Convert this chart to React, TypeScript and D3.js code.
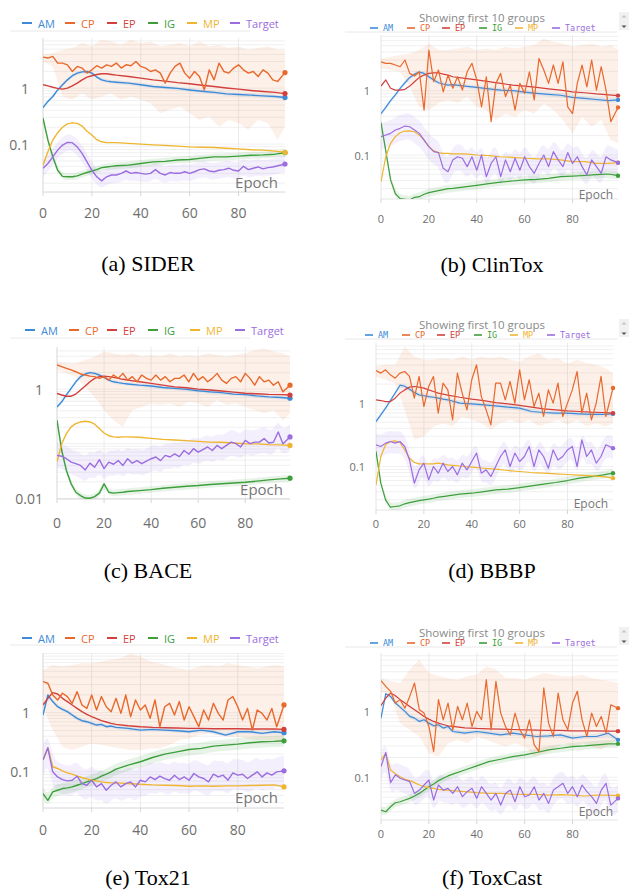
import React from 'react';
import * as d3 from 'd3';

const SMOOTH_EPOCHS = [0, 2, 4, 6, 8, 10, 12, 14, 16, 18, 20, 22, 24, 26, 28, 30, 35, 40, 45, 50, 55, 60, 65, 70, 75, 80, 85, 90, 95, 99];
const NOISY_EPOCHS = [...d3.range(0, 98, 2), 99];
const BAND_EPOCHS = [...d3.range(0, 98, 4), 99];

const SERIES = ['AM', 'CP', 'EP', 'IG', 'MP', 'Target'];
const X_TICKS = [0, 20, 40, 60, 80];

// ---- (a) SIDER
const SIDER_AM = [0.45, 0.58, 0.71, 0.93, 1.15, 1.41, 1.67, 1.86, 1.96, 1.99, 1.86, 1.58, 1.41, 1.34, 1.3, 1.28, 1.23, 1.15, 1.07, 1.03, 0.99, 0.93, 0.88, 0.84, 0.79, 0.77, 0.75, 0.73, 0.71, 0.68];
const SIDER_EP = [1.15, 1.1, 1.04, 0.99, 0.96, 1.0, 1.1, 1.23, 1.41, 1.58, 1.67, 1.76, 1.81, 1.81, 1.76, 1.71, 1.62, 1.51, 1.41, 1.34, 1.26, 1.2, 1.13, 1.07, 1.01, 0.96, 0.91, 0.87, 0.84, 0.8];
const SIDER_IG = [0.29, 0.118, 0.059, 0.034, 0.0265, 0.026, 0.026, 0.027, 0.029, 0.031, 0.033, 0.035, 0.038, 0.039, 0.04, 0.041, 0.042, 0.045, 0.048, 0.049, 0.052, 0.053, 0.056, 0.059, 0.059, 0.061, 0.063, 0.064, 0.066, 0.07];
const SIDER_MP = [0.042, 0.073, 0.118, 0.16, 0.2, 0.23, 0.24, 0.235, 0.21, 0.17, 0.145, 0.12, 0.11, 0.106, 0.106, 0.106, 0.103, 0.1, 0.097, 0.095, 0.092, 0.089, 0.088, 0.087, 0.084, 0.082, 0.079, 0.078, 0.075, 0.071];
const SIDER_CP = [3.6, 3.46, 3.7, 2.81, 2.81, 2.62, 1.99, 2.45, 2.29, 1.86, 2.13, 2.52, 2.29, 2.62, 2.45, 2.81, 2.29, 2.62, 2.52, 3.0, 2.45, 2.29, 1.99, 2.13, 1.86, 1.23, 1.86, 2.45, 2.81, 1.86, 1.51, 1.99, 1.62, 0.93, 2.13, 1.41, 2.81, 1.99, 1.86, 2.29, 2.62, 2.13, 1.86, 1.99, 1.62, 2.13, 1.86, 1.41, 1.32, 1.9];
const SIDER_TARGET = [0.037, 0.045, 0.059, 0.078, 0.096, 0.107, 0.106, 0.089, 0.068, 0.048, 0.034, 0.026, 0.022, 0.026, 0.028, 0.028, 0.03, 0.033, 0.03, 0.031, 0.03, 0.029, 0.03, 0.035, 0.03, 0.028, 0.031, 0.03, 0.03, 0.032, 0.03, 0.032, 0.035, 0.036, 0.033, 0.032, 0.034, 0.035, 0.037, 0.034, 0.033, 0.04, 0.035, 0.037, 0.039, 0.036, 0.038, 0.039, 0.041, 0.044];
const SIDER_CP_HI = [3.97, 4.25, 4.88, 5.23, 6.43, 5.6, 7.4, 6.9, 6.0, 7.4, 6.43, 6.9, 5.6, 6.0, 6.43, 5.6, 6.9, 5.6, 6.0, 5.23, 5.6, 4.88, 5.23, 5.6, 4.88, 4.88];
const SIDER_CP_LO = [3.0, 2.45, 0.71, 0.62, 0.81, 0.62, 0.71, 0.81, 0.62, 0.71, 0.62, 0.54, 0.355, 0.41, 0.47, 0.355, 0.27, 0.31, 0.205, 0.27, 0.235, 0.18, 0.27, 0.235, 0.118, 0.205];

// ---- (b) ClinTox
const CLINTOX_AM = [0.44, 0.55, 0.7, 0.86, 1.09, 1.33, 1.61, 1.81, 1.95, 1.86, 1.65, 1.47, 1.33, 1.27, 1.22, 1.24, 1.18, 1.13, 1.07, 1.02, 1.0, 0.95, 0.91, 0.88, 0.85, 0.79, 0.76, 0.73, 0.7, 0.72];
const CLINTOX_EP = [1.18, 1.47, 1.09, 1.02, 1.02, 1.05, 1.18, 1.38, 1.61, 1.75, 1.86, 1.9, 1.9, 1.81, 1.75, 1.65, 1.55, 1.47, 1.38, 1.3, 1.22, 1.18, 1.13, 1.07, 1.02, 0.96, 0.93, 0.89, 0.86, 0.84];
const CLINTOX_IG = [0.318, 0.116, 0.041, 0.025, 0.021, 0.0205, 0.02, 0.022, 0.0225, 0.0245, 0.026, 0.027, 0.028, 0.029, 0.03, 0.0303, 0.032, 0.0338, 0.036, 0.038, 0.0394, 0.041, 0.0418, 0.0434, 0.046, 0.047, 0.048, 0.0494, 0.0507, 0.0477];
const CLINTOX_MP = [0.0385, 0.094, 0.152, 0.193, 0.222, 0.236, 0.238, 0.23, 0.205, 0.171, 0.135, 0.117, 0.109, 0.106, 0.106, 0.104, 0.104, 0.1, 0.098, 0.094, 0.092, 0.089, 0.087, 0.087, 0.084, 0.079, 0.079, 0.074, 0.074, 0.076];
const CLINTOX_CP = [2.82, 2.66, 2.66, 2.51, 2.36, 3.0, 1.86, 1.69, 1.97, 0.5, 4.29, 1.38, 2.1, 0.96, 1.75, 1.09, 1.65, 1.02, 1.97, 2.66, 1.47, 0.56, 1.65, 0.33, 1.3, 1.86, 0.81, 1.22, 0.5, 1.3, 0.91, 1.97, 0.72, 3.18, 2.1, 1.3, 2.51, 1.3, 2.82, 0.56, 0.44, 1.3, 2.51, 1.15, 3.0, 1.02, 2.36, 1.02, 0.33, 0.55];
const CLINTOX_TARGET = [0.193, 0.205, 0.217, 0.245, 0.26, 0.282, 0.275, 0.245, 0.217, 0.171, 0.135, 0.113, 0.109, 0.062, 0.055, 0.084, 0.094, 0.089, 0.066, 0.094, 0.058, 0.1, 0.046, 0.074, 0.094, 0.046, 0.084, 0.055, 0.089, 0.058, 0.094, 0.066, 0.052, 0.074, 0.1, 0.066, 0.113, 0.084, 0.066, 0.109, 0.074, 0.094, 0.066, 0.049, 0.084, 0.066, 0.052, 0.094, 0.084, 0.076];
const CLINTOX_CP_HI = [3.18, 3.38, 3.58, 3.8, 4.29, 5.44, 4.29, 4.29, 4.55, 4.83, 4.29, 4.55, 4.29, 4.83, 4.55, 4.83, 5.13, 6.5, 5.78, 5.44, 4.83, 5.13, 5.44, 4.83, 5.13, 4.29];
const CLINTOX_CP_LO = [2.22, 2.1, 1.97, 1.15, 0.56, 0.5, 0.64, 0.72, 0.64, 0.81, 0.56, 0.5, 0.35, 0.44, 0.39, 0.5, 0.44, 0.64, 0.5, 0.35, 0.217, 0.39, 0.275, 0.35, 0.171, 0.152];

// ---- (c) BACE
const BACE_AM = [0.47, 0.585, 0.78, 1.03, 1.36, 1.69, 1.89, 2.0, 1.94, 1.81, 1.64, 1.46, 1.36, 1.31, 1.27, 1.24, 1.18, 1.14, 1.07, 1.03, 0.99, 0.93, 0.89, 0.86, 0.81, 0.79, 0.75, 0.72, 0.7, 0.68];
const BACE_EP = [0.83, 0.78, 0.74, 0.74, 0.81, 0.96, 1.14, 1.36, 1.57, 1.69, 1.73, 1.69, 1.64, 1.57, 1.51, 1.46, 1.36, 1.27, 1.18, 1.1, 1.06, 1.0, 0.96, 0.92, 0.88, 0.84, 0.82, 0.8, 0.79, 0.78];
const BACE_IG = [0.27, 0.075, 0.032, 0.0184, 0.0129, 0.0112, 0.0101, 0.01, 0.0107, 0.0124, 0.0184, 0.0129, 0.0124, 0.0127, 0.0129, 0.0133, 0.0138, 0.0144, 0.0153, 0.0159, 0.0166, 0.0171, 0.0179, 0.0184, 0.0191, 0.0197, 0.0206, 0.0217, 0.0227, 0.0233];
const BACE_MP = [0.046, 0.1, 0.153, 0.203, 0.233, 0.25, 0.258, 0.25, 0.227, 0.189, 0.157, 0.14, 0.133, 0.131, 0.133, 0.133, 0.131, 0.125, 0.12, 0.117, 0.114, 0.11, 0.107, 0.106, 0.103, 0.1, 0.099, 0.096, 0.095, 0.093];
const BACE_CP = [2.77, 2.58, 2.4, 2.24, 2.08, 1.89, 1.81, 1.73, 1.69, 1.57, 1.69, 1.46, 1.81, 1.57, 1.94, 1.46, 1.69, 1.36, 1.81, 1.57, 1.46, 1.81, 1.46, 1.69, 1.36, 1.57, 1.57, 1.81, 1.36, 1.94, 1.46, 1.69, 1.36, 1.57, 1.94, 1.46, 1.27, 1.57, 1.69, 1.36, 1.94, 1.57, 1.18, 1.69, 1.36, 1.46, 1.18, 1.36, 0.89, 1.18];
const BACE_TARGET = [0.061, 0.059, 0.053, 0.046, 0.043, 0.04, 0.033, 0.044, 0.037, 0.051, 0.035, 0.046, 0.042, 0.049, 0.04, 0.053, 0.044, 0.049, 0.043, 0.048, 0.053, 0.057, 0.049, 0.061, 0.057, 0.065, 0.058, 0.075, 0.064, 0.081, 0.07, 0.078, 0.087, 0.075, 0.093, 0.081, 0.093, 0.107, 0.1, 0.087, 0.115, 0.1, 0.107, 0.107, 0.124, 0.103, 0.107, 0.164, 0.1, 0.133];
const BACE_CP_HI = [3.18, 2.97, 2.97, 3.42, 3.94, 4.86, 4.53, 4.22, 4.53, 3.94, 4.22, 3.94, 4.53, 3.94, 4.22, 3.94, 4.53, 4.22, 3.94, 4.22, 4.53, 5.22, 5.6, 4.86, 4.53, 3.94];
const BACE_CP_LO = [2.24, 1.94, 1.69, 1.1, 0.72, 0.41, 0.27, 0.203, 0.41, 0.47, 0.545, 0.51, 0.545, 0.47, 0.585, 0.545, 0.47, 0.63, 0.51, 0.545, 0.47, 0.41, 0.356, 0.41, 0.27, 0.356];

// ---- (d) BBBP
const BBBP_AM = [0.513, 0.654, 0.834, 1.1, 1.44, 1.92, 1.85, 1.66, 1.47, 1.35, 1.31, 1.27, 1.24, 1.2, 1.16, 1.13, 1.0, 0.976, 0.94, 0.907, 0.865, 0.834, 0.738, 0.712, 0.695, 0.695, 0.679, 0.663, 0.663, 0.679];
const BBBP_EP = [1.13, 1.1, 1.06, 1.06, 1.2, 1.44, 1.62, 1.79, 1.83, 1.79, 1.73, 1.62, 1.53, 1.44, 1.39, 1.34, 1.24, 1.16, 1.1, 1.02, 0.976, 0.92, 0.865, 0.814, 0.785, 0.757, 0.738, 0.721, 0.712, 0.695];
const BBBP_IG = [0.173, 0.0546, 0.0298, 0.0228, 0.0234, 0.024, 0.0258, 0.027, 0.028, 0.029, 0.0298, 0.0305, 0.0316, 0.0328, 0.0336, 0.0344, 0.0366, 0.0379, 0.0403, 0.0428, 0.0439, 0.0466, 0.0495, 0.0526, 0.0559, 0.0601, 0.0655, 0.0695, 0.0739, 0.0785];
const BBBP_MP = [0.0514, 0.144, 0.22, 0.248, 0.254, 0.239, 0.183, 0.135, 0.116, 0.11, 0.11, 0.11, 0.11, 0.113, 0.11, 0.106, 0.102, 0.0976, 0.094, 0.0908, 0.0865, 0.0834, 0.0804, 0.0785, 0.0766, 0.0748, 0.073, 0.0713, 0.0695, 0.0655];
const BBBP_CP = [3.28, 2.98, 3.36, 2.8, 2.48, 2.98, 3.16, 2.64, 1.2, 2.64, 0.886, 1.83, 2.64, 0.695, 2.07, 1.62, 0.546, 2.98, 1.44, 0.785, 2.34, 4.03, 1.27, 0.785, 0.455, 2.07, 2.07, 1.13, 2.2, 1.0, 3.36, 1.13, 2.34, 0.886, 1.44, 0.616, 1.62, 1.0, 2.07, 0.616, 1.0, 1.62, 3.16, 0.695, 1.44, 0.546, 1.0, 2.64, 0.616, 1.73];
const BBBP_TARGET = [0.22, 0.207, 0.234, 0.248, 0.234, 0.248, 0.207, 0.127, 0.0546, 0.0886, 0.113, 0.0616, 0.1, 0.0785, 0.113, 0.0834, 0.1, 0.0739, 0.113, 0.0886, 0.12, 0.163, 0.0785, 0.0886, 0.0695, 0.1, 0.144, 0.183, 0.1, 0.163, 0.12, 0.144, 0.207, 0.1, 0.183, 0.144, 0.094, 0.183, 0.127, 0.144, 0.183, 0.207, 0.1, 0.264, 0.144, 0.183, 0.113, 0.144, 0.22, 0.195];
const BBBP_CP_HI = [3.79, 4.03, 4.03, 7.85, 5.45, 4.83, 4.83, 5.13, 4.83, 5.45, 4.83, 5.45, 5.13, 5.45, 4.83, 4.55, 5.45, 6.16, 4.83, 5.13, 4.28, 4.83, 4.28, 4.03, 3.57, 2.98];
const BBBP_CP_LO = [2.64, 2.34, 2.07, 0.785, 0.264, 0.298, 0.428, 0.483, 0.428, 0.616, 0.546, 0.483, 0.379, 0.483, 0.546, 0.483, 0.546, 0.428, 0.483, 0.546, 0.455, 0.546, 0.428, 0.483, 0.428, 0.483];

// ---- (e) Tox21
const TOX21_AM = [0.913, 1.99, 1.54, 1.26, 1.14, 1.04, 0.913, 0.802, 0.732, 0.704, 0.66, 0.618, 0.634, 0.579, 0.594, 0.564, 0.543, 0.508, 0.522, 0.508, 0.495, 0.476, 0.508, 0.476, 0.418, 0.476, 0.476, 0.447, 0.476, 0.458];
const TOX21_EP = [1.35, 1.75, 2.18, 2.07, 1.75, 1.54, 1.35, 1.18, 1.04, 0.937, 0.856, 0.791, 0.732, 0.695, 0.66, 0.634, 0.602, 0.579, 0.564, 0.557, 0.55, 0.543, 0.543, 0.536, 0.536, 0.536, 0.529, 0.529, 0.529, 0.522];
const TOX21_IG = [0.043, 0.033, 0.0458, 0.0489, 0.0522, 0.0536, 0.0557, 0.0594, 0.0634, 0.0677, 0.0722, 0.0771, 0.0845, 0.0913, 0.1, 0.111, 0.13, 0.148, 0.175, 0.199, 0.218, 0.239, 0.249, 0.272, 0.283, 0.294, 0.31, 0.322, 0.327, 0.335];
const TOX21_MP = [0.158, 0.255, 0.122, 0.114, 0.104, 0.0962, 0.0913, 0.0845, 0.0802, 0.076, 0.0722, 0.0703, 0.0677, 0.0659, 0.0651, 0.0651, 0.0634, 0.0618, 0.0602, 0.0594, 0.0587, 0.0572, 0.058, 0.0572, 0.058, 0.058, 0.0587, 0.0594, 0.0602, 0.0557];
const TOX21_CP = [3.35, 3.14, 1.99, 1.64, 2.13, 1.87, 1.44, 2.27, 1.35, 1.18, 1.99, 1.11, 1.87, 1.26, 1.04, 1.75, 0.974, 1.99, 0.856, 1.64, 1.11, 1.35, 0.802, 1.64, 0.579, 1.26, 1.44, 0.913, 1.54, 0.751, 1.26, 0.856, 0.579, 1.11, 0.751, 1.44, 0.974, 0.751, 1.64, 1.87, 1.26, 0.751, 1.18, 0.508, 1.11, 0.974, 0.751, 1.18, 0.579, 1.35];
const TOX21_TARGET = [0.158, 0.255, 0.1, 0.0822, 0.0741, 0.0703, 0.0722, 0.0845, 0.0634, 0.0594, 0.0722, 0.0557, 0.0634, 0.0489, 0.0594, 0.0677, 0.0557, 0.0634, 0.0677, 0.0557, 0.0722, 0.0677, 0.0822, 0.0741, 0.0845, 0.0771, 0.0722, 0.0879, 0.0741, 0.0822, 0.0722, 0.0937, 0.0822, 0.0771, 0.0677, 0.0913, 0.0822, 0.0879, 0.0722, 0.0962, 0.0879, 0.0913, 0.0771, 0.0879, 0.1, 0.0822, 0.0962, 0.0879, 0.1, 0.104];
const TOX21_CP_HI = [5.28, 6.42, 6.02, 6.42, 6.86, 6.86, 7.32, 7.81, 8.34, 10.1, 8.9, 7.32, 6.86, 6.02, 5.64, 5.28, 6.02, 6.42, 6.02, 6.86, 6.42, 6.02, 5.64, 6.02, 6.42, 6.02];
const TOX21_CP_LO = [1.26, 0.508, 0.265, 0.233, 0.265, 0.302, 0.283, 0.265, 0.249, 0.233, 0.233, 0.249, 0.249, 0.283, 0.344, 0.367, 0.418, 0.447, 0.418, 0.392, 0.392, 0.367, 0.344, 0.344, 0.322, 0.302];

// ---- (f) ToxCast
const TOXCAST_AM = [0.791, 1.86, 1.69, 1.34, 1.16, 1.0, 0.839, 0.791, 0.705, 0.746, 0.664, 0.605, 0.627, 0.558, 0.591, 0.496, 0.468, 0.496, 0.468, 0.441, 0.468, 0.441, 0.416, 0.426, 0.441, 0.393, 0.416, 0.416, 0.468, 0.37];
const TOXCAST_EP = [1.22, 1.6, 1.9, 1.73, 1.51, 1.34, 1.19, 1.06, 0.943, 0.839, 0.764, 0.705, 0.664, 0.634, 0.605, 0.591, 0.564, 0.551, 0.545, 0.539, 0.532, 0.526, 0.52, 0.514, 0.514, 0.508, 0.508, 0.508, 0.502, 0.502];
const TOXCAST_IG = [0.0318, 0.03, 0.0357, 0.0411, 0.0426, 0.0452, 0.0479, 0.052, 0.057, 0.064, 0.072, 0.079, 0.089, 0.0966, 0.105, 0.112, 0.129, 0.149, 0.173, 0.188, 0.206, 0.219, 0.238, 0.261, 0.276, 0.293, 0.3, 0.311, 0.322, 0.322];
const TOXCAST_MP = [0.184, 0.232, 0.129, 0.113, 0.102, 0.0933, 0.089, 0.083, 0.0764, 0.072, 0.0696, 0.068, 0.0656, 0.064, 0.064, 0.0626, 0.0605, 0.0584, 0.057, 0.057, 0.0557, 0.0551, 0.0551, 0.0538, 0.0545, 0.0538, 0.052, 0.0538, 0.0538, 0.0527];
const TOXCAST_CP = [2.93, 2.4, 2.02, 1.34, 1.51, 1.12, 1.69, 2.7, 1.06, 0.943, 0.591, 0.246, 1.51, 0.746, 1.34, 0.526, 1.19, 0.746, 1.34, 0.591, 1.0, 0.746, 3.03, 0.526, 2.86, 0.943, 0.591, 0.441, 0.943, 0.526, 0.393, 0.746, 0.311, 0.246, 2.27, 0.664, 0.416, 1.9, 0.746, 0.526, 1.34, 2.02, 0.746, 0.416, 0.943, 0.591, 0.839, 0.468, 1.26, 1.12];
const TOXCAST_TARGET = [0.145, 0.238, 0.083, 0.109, 0.0966, 0.091, 0.0859, 0.057, 0.064, 0.0764, 0.091, 0.0452, 0.0764, 0.064, 0.068, 0.057, 0.072, 0.0508, 0.0605, 0.068, 0.0479, 0.072, 0.057, 0.0452, 0.057, 0.0379, 0.057, 0.064, 0.0426, 0.072, 0.0508, 0.0538, 0.072, 0.0452, 0.057, 0.0402, 0.064, 0.072, 0.081, 0.057, 0.072, 0.0508, 0.0764, 0.0605, 0.0508, 0.0402, 0.064, 0.081, 0.0379, 0.0479];
const TOXCAST_CP_HI = [3.21, 2.86, 2.7, 4.31, 6.12, 3.83, 3.41, 3.21, 3.03, 3.41, 3.61, 4.85, 4.31, 3.21, 3.21, 3.03, 3.41, 3.83, 3.61, 3.41, 3.41, 3.61, 3.21, 3.03, 2.86, 2.7];
const TOXCAST_CP_LO = [2.02, 1.69, 0.664, 0.526, 0.416, 0.232, 0.206, 0.33, 0.37, 0.33, 0.416, 0.37, 0.33, 0.293, 0.33, 0.293, 0.206, 0.232, 0.261, 0.33, 0.293, 0.33, 0.293, 0.261, 0.33, 0.37];

const COLORS: Record<string, string> = {
  AM: '#3d8bd8',
  CP: '#e9682c',
  EP: '#d23f3c',
  IG: '#3c9f3c',
  MP: '#f0b52e',
  Target: '#9b6de0',
};

const SANS = "'Open Sans', 'Noto Sans', sans-serif";
const MONO = "'DejaVu Sans Mono', monospace";
const SERIF = "'Liberation Serif', 'Times New Roman', serif";

type Runs = Record<string, number[]>;

type Layout = {
  id: string;
  caption: string;
  capX: number;
  capY: number;
  left: number;
  right: number;
  top: number;
  bottom: number;
  yDomain: [number, number];
  yTicks: number[];
  grouped: boolean;
  legX: number;
  legY: number;
  legOffsets: number[];
  sepY: number;
  titleY: number;
  xLabelY: number;
  yLabelX: number;
  epochX: number;
  epochY: number;
  targetBand: number;
  igBand: number;
  runs: Runs;
};

const LEFT_LEG = [0, 43, 85, 126, 165, 208];
const RIGHT_LEG = [0, 37, 72, 109, 145, 182];

const PANELS: Layout[] = [
  {
    id: 'a', caption: '(a) SIDER', capX: 148, capY: 271,
    left: 43, right: 285, top: 38, bottom: 192, yDomain: [0.0139, 7.9], yTicks: [1, 0.1],
    grouped: false, legX: 22, legY: 23, legOffsets: LEFT_LEG, sepY: 31, titleY: 0,
    xLabelY: 212, yLabelX: 29, epochX: 278, epochY: 182, targetBand: 1.4, igBand: 1.15,
    runs: { AM: SIDER_AM, CP: SIDER_CP, EP: SIDER_EP, IG: SIDER_IG, MP: SIDER_MP, Target: SIDER_TARGET, hi: SIDER_CP_HI, lo: SIDER_CP_LO },
  },
  {
    id: 'b', caption: '(b) ClinTox', capX: 492, capY: 272,
    left: 381, right: 618, top: 35, bottom: 199, yDomain: [0.0207, 7.35], yTicks: [1, 0.1],
    grouped: true, legX: 370, legY: 28, legOffsets: RIGHT_LEG, sepY: 32, titleY: 17,
    xLabelY: 218, yLabelX: 370, epochX: 613, epochY: 194, targetBand: 1.6, igBand: 1.15,
    runs: { AM: CLINTOX_AM, CP: CLINTOX_CP, EP: CLINTOX_EP, IG: CLINTOX_IG, MP: CLINTOX_MP, Target: CLINTOX_TARGET, hi: CLINTOX_CP_HI, lo: CLINTOX_CP_LO },
  },
  {
    id: 'c', caption: '(c) BACE', capX: 148, capY: 578,
    left: 57, right: 290, top: 347, bottom: 499, yDomain: [0.0097, 5.9], yTicks: [1, 0.01],
    grouped: false, legX: 25, legY: 330, legOffsets: [0, 44, 82, 123, 165, 210], sepY: 338, titleY: 0,
    xLabelY: 522, yLabelX: 43, epochX: 283, epochY: 489, targetBand: 1.7, igBand: 1.15,
    runs: { AM: BACE_AM, CP: BACE_CP, EP: BACE_EP, IG: BACE_IG, MP: BACE_MP, Target: BACE_TARGET, hi: BACE_CP_HI, lo: BACE_CP_LO },
  },
  {
    id: 'd', caption: '(d) BBBP', capX: 492, capY: 578,
    left: 376, right: 613, top: 343, bottom: 510, yDomain: [0.0206, 8.9], yTicks: [1, 0.1],
    grouped: true, legX: 365, legY: 335, legOffsets: RIGHT_LEG, sepY: 339, titleY: 324,
    xLabelY: 523, yLabelX: 365, epochX: 608, epochY: 503, targetBand: 1.5, igBand: 1.15,
    runs: { AM: BBBP_AM, CP: BBBP_CP, EP: BBBP_EP, IG: BBBP_IG, MP: BBBP_MP, Target: BBBP_TARGET, hi: BBBP_CP_HI, lo: BBBP_CP_LO },
  },
  {
    id: 'e', caption: '(e) Tox21', capX: 148, capY: 885,
    left: 43, right: 284, top: 653, bottom: 808, yDomain: [0.0245, 10.2], yTicks: [1, 0.1],
    grouped: false, legX: 22, legY: 638, legOffsets: LEFT_LEG, sepY: 645, titleY: 0,
    xLabelY: 829, yLabelX: 30, epochX: 278, epochY: 797, targetBand: 1.8, igBand: 1.25,
    runs: { AM: TOX21_AM, CP: TOX21_CP, EP: TOX21_EP, IG: TOX21_IG, MP: TOX21_MP, Target: TOX21_TARGET, hi: TOX21_CP_HI, lo: TOX21_CP_LO },
  },
  {
    id: 'f', caption: '(f) ToxCast', capX: 492, capY: 885,
    left: 381, right: 618, top: 653, bottom: 820, yDomain: [0.0225, 7.7], yTicks: [1, 0.1],
    grouped: true, legX: 370, legY: 643, legOffsets: RIGHT_LEG, sepY: 647, titleY: 632,
    xLabelY: 833, yLabelX: 370, epochX: 613, epochY: 811, targetBand: 1.6, igBand: 1.15,
    runs: { AM: TOXCAST_AM, CP: TOXCAST_CP, EP: TOXCAST_EP, IG: TOXCAST_IG, MP: TOXCAST_MP, Target: TOXCAST_TARGET, hi: TOXCAST_CP_HI, lo: TOXCAST_CP_LO },
  },
];

const epochsOf = (name: string) => (name === 'CP' || name === 'Target' ? NOISY_EPOCHS : SMOOTH_EPOCHS);

function Chart({ p }: { p: Layout }) {
  const x = d3.scaleLinear().domain([0, 99]).range([p.left, p.right]);
  const y = d3.scaleLog().domain(p.yDomain).range([p.bottom, p.top]);
  const small = p.grouped;
  const tickSize = small ? 11 : 14;
  const lw = small ? 1.2 : 1.4;

  const lineOf = (name: string) => {
    const ep = epochsOf(name);
    return d3.line<number>().x((_, i) => x(ep[i])).y((v) => y(v))(p.runs[name]) || '';
  };
  const haloOf = (name: string, k: number) => {
    const ep = epochsOf(name);
    return d3.area<number>()
      .x((_, i) => x(ep[i]))
      .y0((v) => y(v / k))
      .y1((v) => y(v * k))
      .curve(d3.curveBasis)(p.runs[name]) || '';
  };
  const cpBand = d3.area<number>()
    .x((_, i) => x(BAND_EPOCHS[i]))
    .y0((_, i) => y(p.runs.lo[i]))
    .y1((v) => y(v))(p.runs.hi) || '';

  const grid = y.ticks().filter((v) => v >= p.yDomain[0] && v <= p.yDomain[1]);
  const clip = `clip-${p.id}`;
  const order = ['AM', 'EP', 'IG', 'MP', 'Target', 'CP'];

  return (
    <g>
      <defs>
        <clipPath id={clip}>
          <rect x={p.left} y={p.top} width={p.right - p.left + 4} height={p.bottom - p.top} />
        </clipPath>
      </defs>

      {/* title / legend */}
      {p.grouped && (
        <g>
          <text x={482} y={p.titleY} textAnchor="middle" dominantBaseline="central"
            fontFamily={SANS} fontSize={11.5} fill="#8a8a8a">Showing first 10 groups</text>
          <rect x={619} y={p.titleY - 5} width={10} height={18} fill="#f1f1f1" />
          <path d={`M621.5,${p.titleY + 0.5} L624,${p.titleY - 2} L626.5,${p.titleY + 0.5} Z`} fill="#c4c4c4" />
          <path d={`M621.5,${p.titleY + 8.5} L624,${p.titleY + 11} L626.5,${p.titleY + 8.5} Z`} fill="#555" />
        </g>
      )}
      {SERIES.map((s, i) => {
        const lx = p.legX + p.legOffsets[i];
        const len = small ? 8 : 10;
        return (
          <g key={s}>
            <line x1={lx} x2={lx + len} y1={p.legY} y2={p.legY} stroke={COLORS[s]} strokeWidth={small ? 1.6 : 2} />
            <text x={lx + len + (small ? 5 : 6)} y={p.legY} dominantBaseline="central"
              fontFamily={small ? MONO : SANS} fontSize={small ? 8.5 : 11} fill={COLORS[s]}>{s}</text>
          </g>
        );
      })}
      <line x1={small ? 345 : 10} x2={small ? 617 : 250} y1={p.sepY} y2={p.sepY} stroke="#e8e8e8" strokeWidth={1} />

      {/* grid */}
      {grid.map((v) => (
        <line key={`h${v}`} x1={p.left} x2={p.right} y1={y(v)} y2={y(v)} stroke="#ececec" strokeWidth={0.8} />
      ))}
      {X_TICKS.filter((t) => t > 0).map((t) => (
        <line key={`v${t}`} x1={x(t)} x2={x(t)} y1={p.top} y2={p.bottom} stroke="#e6e6e6" strokeWidth={0.8} />
      ))}
      <line x1={p.left} x2={p.left} y1={p.top} y2={p.bottom} stroke={small ? '#e4e4e4' : '#d6d6d6'} strokeWidth={1} />
      <line x1={p.left} x2={p.right} y1={p.bottom} y2={p.bottom} stroke={small ? '#e4e4e4' : '#d6d6d6'} strokeWidth={1} />
      {X_TICKS.map((t) => (
        <line key={`t${t}`} x1={x(t)} x2={x(t)} y1={p.bottom} y2={p.bottom + 4} stroke="#d6d6d6" strokeWidth={1} />
      ))}

      {/* bands and lines */}
      <g clipPath={`url(#${clip})`}>
        <path d={cpBand} fill={COLORS.CP} fillOpacity={0.1} />
        <path d={haloOf('Target', p.targetBand)} fill={COLORS.Target} fillOpacity={0.11} />
        <path d={haloOf('IG', p.igBand)} fill={COLORS.IG} fillOpacity={0.12} />
        <path d={haloOf('AM', 1.08)} fill={COLORS.AM} fillOpacity={0.12} />
        {order.map((s) => (
          <path key={s} d={lineOf(s)} fill="none" stroke={COLORS[s]} strokeWidth={lw} strokeLinejoin="round" />
        ))}
        {order.map((s) => {
          const vals = p.runs[s];
          return <circle key={`d${s}`} cx={x(99)} cy={y(vals[vals.length - 1])} r={small ? 2.2 : 2.6} fill={COLORS[s]} />;
        })}
      </g>

      {/* axis labels */}
      {X_TICKS.map((t) => (
        <text key={`xl${t}`} x={x(t)} y={p.xLabelY} textAnchor="middle" dominantBaseline="central"
          fontFamily={SANS} fontSize={tickSize} fill="#6e6e6e">{t}</text>
      ))}
      {p.yTicks.map((v) => (
        <text key={`yl${v}`} x={p.yLabelX} y={y(v)} textAnchor="end" dominantBaseline="central"
          fontFamily={SANS} fontSize={tickSize} fill="#6e6e6e">{String(v)}</text>
      ))}
      <text x={p.epochX} y={p.epochY} textAnchor="end" dominantBaseline="central"
        fontFamily={SANS} fontSize={small ? 12 : 15} fill="#777">Epoch</text>

      <text x={p.capX} y={p.capY} textAnchor="middle" fontFamily={SERIF} fontSize={22} fill="#000">{p.caption}</text>
    </g>
  );
}

export default function App() {
  return (
    <svg width={629} height={890} viewBox="0 0 629 890"
      style={{ position: 'fixed', left: 0, top: 0, background: '#fff' }}>
      <rect width={629} height={890} fill="#fff" />
      {PANELS.map((p) => (
        <Chart key={p.id} p={p} />
      ))}
    </svg>
  );
}
